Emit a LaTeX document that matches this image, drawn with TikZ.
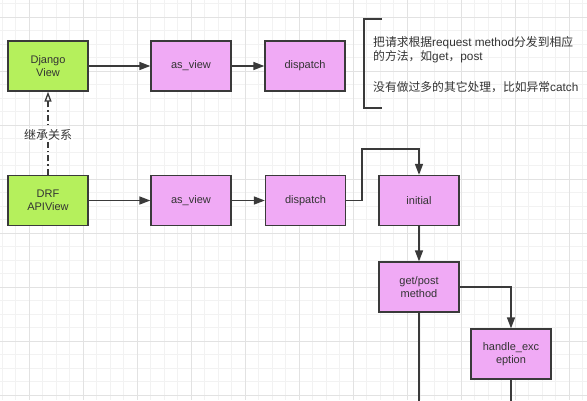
\documentclass[tikz,border=0pt]{standalone}
\usepackage{fontspec}
\setmainfont{Liberation Sans}
\newfontfamily\cjk{Noto Sans CJK SC}
\usetikzlibrary{arrows.meta}
\definecolor{gbox}{HTML}{B5F05C}
\definecolor{pbox}{HTML}{F0AAF5}
\definecolor{edgec}{HTML}{3A3A3A}
\definecolor{txtc}{HTML}{333333}
\definecolor{gminor}{HTML}{F2F2F2}
\definecolor{gmajor}{HTML}{E2E2E2}
\begin{document}
\begin{tikzpicture}[x=1pt,y=-1pt,
  box/.style={draw=edgec, line width=1.3pt, minimum width=80pt, minimum height=50pt,
    inner sep=0pt, align=center, text=txtc, font=\fontsize{11}{13}\selectfont},
  gbx/.style={box, fill=gbox},
  pbx/.style={box, fill=pbox},
  conn/.style={draw=edgec, line width=1.5pt, -{Triangle[length=11pt,width=8pt]}},
  plain/.style={draw=edgec, line width=1.5pt},
  inherit/.style={draw=edgec, line width=1.4pt, dash pattern=on 6pt off 3pt on 1.5pt off 3pt,
    -{Triangle[open,length=10pt,width=7pt,line width=1.3pt]}},
  minorg/.style={draw=gminor, line width=0.6pt},
  majorg/.style={draw=gmajor, line width=0.8pt}]
\useasboundingbox (0,0) rectangle (587,400);
\fill[white] (0,0) rectangle (587,400);
\foreach \i in {0,...,43} \draw[minorg] ({2+13.5*\i},0) -- ({2+13.5*\i},400);
\foreach \j in {0,...,29} \draw[minorg] (0,{3.5+13.5*\j}) -- (587,{3.5+13.5*\j});
\foreach \i in {0,...,10} \draw[majorg] ({29+54*\i},0) -- ({29+54*\i},400);
\foreach \j in {0,...,7} \draw[majorg] (0,{17+54*\j}) -- (587,{17+54*\j});

\node[gbx] (dj) at (48,66) {Django\\View};
\node[pbx] (av1) at (191,66) {as\_view};
\node[pbx] (dp1) at (305,66) {dispatch};
\node[gbx] (drf) at (48,200.5) {DRF\\APIView};
\node[pbx] (av2) at (191,200.5) {as\_view};
\node[pbx] (dp2) at (305.5,200.5) {dispatch};
\node[pbx] (ini) at (419,200.5) {initial};
\node[pbx] (gp) at (419,287) {get/post\\method};
\node[pbx] (hx) at (511,354) {handle\_exc\\eption};

\draw[conn] (dj) -- (av1);
\draw[conn] (av1) -- (dp1);
\draw[conn] (drf) -- (av2);
\draw[conn] (av2) -- (dp2);
\coordinate (k1) at (362,149);
\draw[conn] (dp2.east) -| (k1) -| (ini.north);
\draw[conn] (ini) -- (gp);
\draw[conn] (gp.east) -| (hx.north);
\coordinate (e1) at (419,401);
\coordinate (e2) at (511,401);
\draw[plain] (gp.south) -- (e1);
\draw[plain] (hx.south) -- (e2);

\draw[inherit] (drf.north) -- (dj.south)
  node[pos=0.48, fill=white, inner sep=1pt, text=txtc, font=\fontsize{12}{14}\cjk] (lbl) {继承关系};

\coordinate (b1) at (382,19);
\coordinate (b2) at (382,108);
\draw[draw=edgec, line width=1.5pt] (b1) -- (364,19) -- (364,108) -- (b2);
\node[anchor=north west, inner sep=0pt, align=left, text=txtc, font=\fontsize{11.8}{14}\selectfont] (note) at (373,36)
  {{\cjk 把请求根据}request method{\cjk 分发到相应}\\
   {\cjk 的方法，如}get{\cjk ，}post\\[17pt]
   {\cjk 没有做过多的其它处理，比如异常}catch};
\end{tikzpicture}
\end{document}
